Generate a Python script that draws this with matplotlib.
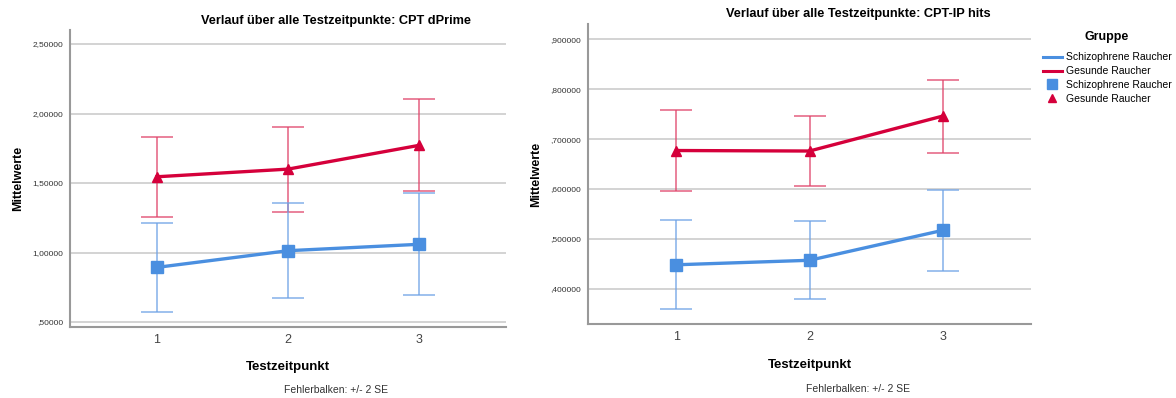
import numpy as np
import matplotlib
matplotlib.use('Agg')
import matplotlib.pyplot as plt
from matplotlib.lines import Line2D

plt.rcParams['font.family'] = ['Liberation Sans', 'DejaVu Sans']

##################
## Data
##################
zeitpunkte = [1, 2, 3]
gruppen = ['Schizophrene Raucher', 'Gesunde Raucher']

# CPT dPrime
dprime_schizo = [0.893, 1.013, 1.059]
dprime_schizo_lo = [0.574, 0.673, 0.692]
dprime_schizo_hi = [1.214, 1.356, 1.426]
dprime_gesund = [1.545, 1.600, 1.771]
dprime_gesund_lo = [1.255, 1.291, 1.440]
dprime_gesund_hi = [1.833, 1.905, 2.102]
dprime_ticks = [0.5, 1.0, 1.5, 2.0, 2.5]
dprime_ticklabels = [',50000', '1,00000', '1,50000', '2,00000', '2,50000']

# CPT-IP hits
hits_schizo = [0.448, 0.457, 0.517]
hits_schizo_lo = [0.359, 0.380, 0.436]
hits_schizo_hi = [0.538, 0.536, 0.598]
hits_gesund = [0.677, 0.676, 0.746]
hits_gesund_lo = [0.596, 0.606, 0.673]
hits_gesund_hi = [0.758, 0.746, 0.818]
hits_ticks = [0.4, 0.5, 0.6, 0.7, 0.8, 0.9]
hits_ticklabels = [',400000', ',500000', ',600000', ',700000', ',800000', ',900000']

blau = '#4a8fe0'
blau_err = '#6fa3e6'
rot = '#d5003b'
rot_err = '#e0436a'

W, H = 1176, 398
fig = plt.figure(figsize=(W/100, H/100), dpi=100)


def panel(rect, m_s, lo_s, hi_s, m_g, lo_g, hi_g, ylim, ticks, ticklabels):
    ax = fig.add_axes(rect)
    for yt in ticks:
        ax.axhline(yt, color='#d0d0d0', lw=1.3, zorder=0)
    x = np.array(zeitpunkte)
    for m, lo, hi, c, ce, mk, ms in [(m_g, lo_g, hi_g, rot, rot_err, '^', 7),
                                     (m_s, lo_s, hi_s, blau, blau_err, 's', 8)]:
        m = np.array(m)
        err = [m - np.array(lo), np.array(hi) - m]
        ax.errorbar(x, m, yerr=err, fmt='none', ecolor=ce, elinewidth=1.1,
                    capsize=11.5, capthick=1.1, alpha=0.85, zorder=2)
        ax.plot(x, m, color=c, lw=2.4, marker=mk, ms=ms, zorder=3)
    ax.set_xlim(0.336, 3.664)
    ax.set_ylim(ylim)
    ax.set_xticks(zeitpunkte)
    ax.set_xticklabels([str(v) for v in zeitpunkte], fontsize=9, color='#444444')
    ax.set_yticks(ticks)
    ax.set_yticklabels(ticklabels, fontsize=6, color='#333333')
    ax.tick_params(length=0, pad=5)
    ax.tick_params(axis='x', pad=5)
    for s in ['top', 'right']:
        ax.spines[s].set_visible(False)
    for s in ['left', 'bottom']:
        ax.spines[s].set_color('#999999')
        ax.spines[s].set_linewidth(1.5)
    ax.set_xlabel('Testzeitpunkt', fontsize=9.5, fontweight='bold', labelpad=11)
    ax.set_ylabel('Mittelwerte', fontsize=9, fontweight='bold', labelpad=6)
    return ax


ax1 = panel([70/W, 1-327/H, 436/W, 297/H],
            dprime_schizo, dprime_schizo_lo, dprime_schizo_hi,
            dprime_gesund, dprime_gesund_lo, dprime_gesund_hi,
            (0.464, 2.601), dprime_ticks, dprime_ticklabels)
ax2 = panel([588/W, 1-324.3/H, 443/W, 300.3/H],
            hits_schizo, hits_schizo_lo, hits_schizo_hi,
            hits_gesund, hits_gesund_lo, hits_gesund_hi,
            (0.3287, 0.9306), hits_ticks, hits_ticklabels)

fig.text(336/W, 1-20.7/H, 'Verlauf über alle Testzeitpunkte: CPT dPrime',
         ha='center', va='center', fontsize=9.2, fontweight='bold')
fig.text(858/W, 1-14/H, 'Verlauf über alle Testzeitpunkte: CPT-IP hits',
         ha='center', va='center', fontsize=9.2, fontweight='bold')
fig.text(336/W, 1-390/H, 'Fehlerbalken: +/- 2 SE', ha='center', va='center',
         fontsize=7.5, color='#333333')
fig.text(858/W, 1-389/H, 'Fehlerbalken: +/- 2 SE', ha='center', va='center',
         fontsize=7.5, color='#333333')

# legend
fig.text(1107/W, 1-36.7/H, 'Gruppe', ha='center', va='center',
         fontsize=9, fontweight='bold')
handles = [Line2D([], [], color=blau, lw=2.2),
           Line2D([], [], color=rot, lw=2.2),
           Line2D([], [], color=blau, ls='none', marker='s', ms=7),
           Line2D([], [], color=rot, ls='none', marker='^', ms=6)]
labels = gruppen + gruppen
fig.legend(handles, labels, loc='upper left', bbox_to_anchor=(1043/W, 1-52.5/H),
           frameon=False, fontsize=7.5, borderpad=0, borderaxespad=0,
           handlelength=1.8, handletextpad=0.4, labelspacing=0.36)

plt.savefig('out.png', dpi=100)
